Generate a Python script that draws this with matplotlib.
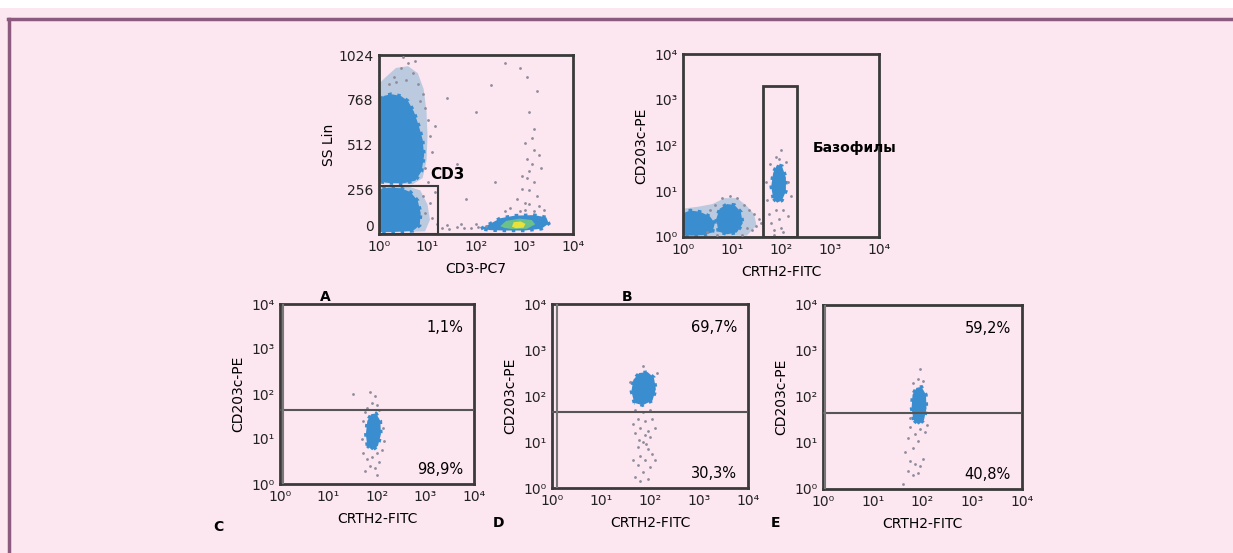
import matplotlib
matplotlib.use("Agg")
import matplotlib.pyplot as plt
from matplotlib.patches import Polygon, Rectangle

# --- данные (x в log10, y в log10 кроме панели A, где y линейный) ---
a_upper = [(0.0, 300), (0.0, 760), (0.1, 790), (0.25, 800), (0.45, 790), (0.6, 760), (0.72, 700),
           (0.82, 620), (0.9, 540), (0.93, 450), (0.88, 360), (0.75, 305), (0.5, 290), (0.2, 292)]
a_upper_halo = [(0.0, 290), (0.0, 860), (0.15, 900), (0.35, 950), (0.6, 960), (0.8, 920), (0.92, 830),
                (0.98, 700), (1.0, 560), (0.98, 420), (0.9, 320), (0.7, 285)]
a_lower = [(0.0, 12), (0.0, 255), (0.2, 265), (0.45, 262), (0.65, 240), (0.8, 190), (0.86, 120),
           (0.84, 50), (0.7, 18), (0.3, 12)]
a_lower_halo = [(0.0, 8), (0.0, 270), (0.5, 280), (0.85, 250), (1.0, 170), (1.05, 80), (0.95, 15)]
a_right = [(2.1, 30), (2.3, 60), (2.5, 90), (2.8, 105), (3.2, 108), (3.45, 95), (3.5, 60),
           (3.35, 30), (3.0, 20), (2.6, 20), (2.3, 22)]
a_green = [(2.5, 45), (2.62, 75), (2.9, 88), (3.15, 80), (3.22, 55), (3.05, 30), (2.75, 28), (2.58, 35)]
a_yellow = [(2.74, 42), (2.78, 68), (2.92, 72), (3.02, 58), (2.98, 36), (2.82, 33)]
a_gray = [(0.3, 900), (0.45, 950), (0.55, 880), (0.7, 920), (0.8, 860), (0.9, 800), (0.95, 720),
          (1.0, 650), (1.05, 560), (0.6, 980), (0.35, 870), (0.2, 860), (0.85, 760), (1.1, 470),
          (0.95, 380), (1.0, 300), (1.15, 240), (1.05, 180), (0.95, 120), (1.1, 90), (1.2, 60), (0.9, 220),
          (1.3, 35), (1.45, 30), (1.6, 38), (1.75, 32), (1.9, 36), (2.05, 40), (2.2, 45), (1.4, 50),
          (1.7, 55), (2.0, 60), (2.7, 150), (2.85, 200), (3.0, 180), (3.1, 250), (3.2, 300), (3.05, 320),
          (3.25, 220), (3.3, 160), (2.95, 260), (3.15, 400), (3.3, 450), (3.0, 520), (3.2, 600),
          (3.1, 700), (3.25, 820), (3.05, 900), (2.9, 950), (3.35, 380), (2.6, 130), (3.4, 140),
          (1.6, 400), (2.0, 700), (2.3, 850), (1.8, 200), (2.4, 300), (2.6, 980), (1.4, 780),
          (2.9, 130), (3.0, 140), (3.1, 170), (3.2, 130), (2.95, 330), (3.1, 360), (3.2, 480),
          (3.05, 430), (3.15, 550), (0.5, 1010), (0.75, 990), (1.15, 620), (1.2, 380)]
a_gate = (0.0, 1.22, 0, 275)   # x0, x1 (log), y0, y1

b_c1 = [(0.0, 0.05), (0.0, 0.52), (0.15, 0.58), (0.35, 0.55), (0.55, 0.45), (0.65, 0.3), (0.6, 0.1),
        (0.4, 0.04), (0.15, 0.03)]
b_c2 = [(0.72, 0.12), (0.68, 0.4), (0.75, 0.62), (0.9, 0.72), (1.05, 0.7), (1.18, 0.55), (1.22, 0.3),
        (1.1, 0.1), (0.9, 0.06)]
b_halo = [(0.0, 0.02), (0.0, 0.62), (0.3, 0.66), (0.6, 0.72), (0.85, 0.85), (1.1, 0.85), (1.3, 0.68),
          (1.45, 0.5), (1.5, 0.25), (1.3, 0.03)]
b_baso = [(1.84, 0.85), (1.8, 1.1), (1.84, 1.4), (1.92, 1.58), (2.02, 1.55), (2.1, 1.3), (2.1, 1.0),
          (2.02, 0.8), (1.92, 0.75)]
b_gray = [(0.55, 0.6), (0.65, 0.7), (0.8, 0.85), (0.95, 0.9), (1.1, 0.85), (1.25, 0.7), (1.35, 0.6),
          (1.45, 0.5), (1.55, 0.4), (1.6, 0.3), (1.3, 0.2), (1.4, 0.15), (1.5, 0.25), (0.5, 0.1),
          (0.7, 0.05), (1.2, 0.05), (1.75, 0.5), (1.8, 0.3), (1.85, 0.15), (1.9, 0.6), (1.95, 0.4),
          (2.0, 0.2), (2.05, 0.6), (2.15, 0.45), (1.72, 0.8), (1.78, 1.6), (1.9, 1.75), (2.0, 1.9),
          (1.95, 1.7), (2.1, 1.65), (2.15, 1.2), (1.7, 1.2), (2.2, 0.9), (1.85, 0.05), (2.05, 0.1)]
b_gate = (1.63, 2.33, 0.0, 3.3)

c_blob = [(1.8, 0.85), (1.77, 1.1), (1.8, 1.4), (1.88, 1.55), (1.98, 1.57), (2.07, 1.4), (2.08, 1.1),
          (2.02, 0.85), (1.9, 0.75)]
c_gray = [(1.75, 0.3), (1.85, 0.4), (1.95, 0.35), (2.05, 0.5), (1.8, 0.55), (1.9, 0.6), (2.0, 0.7),
          (1.72, 0.7), (2.1, 0.75), (2.15, 0.95), (1.7, 1.0), (2.12, 1.25), (1.72, 1.4), (1.8, 1.7),
          (1.9, 1.8), (2.0, 1.75), (1.95, 1.95), (1.85, 2.05), (2.05, 1.65), (1.75, 1.6), (1.5, 2.0), (2.0, 0.2)]

d_blob = [(1.68, 1.85), (1.62, 2.1), (1.66, 2.35), (1.78, 2.5), (1.95, 2.52), (2.08, 2.4), (2.12, 2.15),
          (2.05, 1.9), (1.85, 1.8)]
d_gray = [(1.7, 1.7), (1.85, 1.65), (2.0, 1.7), (1.75, 1.5), (1.9, 1.45), (2.05, 1.5), (1.8, 1.3),
          (1.95, 1.25), (1.7, 1.2), (2.0, 1.1), (1.85, 1.0), (1.75, 0.9), (1.95, 0.85), (1.8, 0.7),
          (2.05, 0.75), (1.9, 0.6), (1.75, 0.5), (2.0, 0.45), (1.85, 0.35), (1.7, 0.25), (1.95, 0.2),
          (1.8, 0.15), (1.65, 0.6), (2.1, 1.3), (1.65, 1.4), (1.9, 1.15), (1.78, 1.05), (1.92, 0.95),
          (2.1, 0.6), (1.6, 2.3), (2.15, 2.5), (1.85, 2.65)]

e_blob = [(1.82, 1.5), (1.78, 1.75), (1.8, 2.05), (1.88, 2.2), (1.98, 2.22), (2.07, 2.05), (2.08, 1.75),
          (2.03, 1.5), (1.92, 1.4)]
e_gray = [(1.75, 1.35), (1.85, 1.2), (1.95, 1.3), (2.05, 1.25), (1.7, 1.1), (1.9, 1.05), (1.8, 0.9),
          (1.65, 0.8), (1.75, 0.6), (1.85, 0.55), (1.95, 0.5), (1.7, 0.4), (1.8, 0.3), (1.9, 0.35),
          (1.6, 0.1), (2.0, 0.65), (1.75, 1.55), (2.1, 1.4), (1.9, 2.4), (2.0, 2.35), (1.8, 2.3), (1.95, 2.6)]

# порог CD203c и проценты (верх, низ)
thresholds = {"C": 1.65, "D": 1.65, "E": 1.65}
percents = {"C": ("1,1%", "98,9%"), "D": ("69,7%", "30,3%"), "E": ("59,2%", "40,8%")}

log_ticks = [0, 1, 2, 3, 4]
log_labels = ["10⁰", "10¹", "10²", "10³", "10⁴"]
lin_ticks = [0, 256, 512, 768, 1024]

BG = "#fce6f0"
BLUE = "#3a8dcf"
HALO = "#bccadf"
GRAY = "#8e8c9c"
AX = "#3a3a3a"

fig = plt.figure(figsize=(12.33, 5.53), dpi=100, facecolor=BG)
W, H = 1233, 553

def make_ax(l, t, r, b):
    ax = fig.add_axes([l / W, 1 - b / H, (r - l) / W, (b - t) / H])
    ax.set_facecolor(BG)
    for s in ax.spines.values():
        s.set_color(AX)
        s.set_linewidth(2)
    ax.tick_params(length=0, pad=4, labelsize=10, colors="#222222")
    return ax

def logpoly(pts, ylog=True):
    return [(10 ** x, 10 ** y if ylog else y) for x, y in pts]

def blob(ax, pts, color, ylog=True, edge=True, z=2):
    ax.add_patch(Polygon(logpoly(pts, ylog), closed=True, fc=color, ec=color if edge else "none",
                         lw=2.5, ls=":", zorder=z))

def logdots(ax, pts, color, ylog=True, s=4):
    xs = [10 ** p[0] for p in pts]
    ys = [10 ** p[1] if ylog else p[1] for p in pts]
    ax.scatter(xs, ys, s=s, color=color, linewidths=0, zorder=3)

def setup_log(ax, ylog=True):
    ax.set_xscale("log")
    ax.set_xlim(1, 1e4)
    ax.set_xticks([10 ** t for t in log_ticks])
    ax.set_xticklabels(log_labels)
    ax.minorticks_off()
    if ylog:
        ax.set_yscale("log")
        ax.set_ylim(1, 1e4)
        ax.set_yticks([10 ** t for t in log_ticks])
        ax.set_yticklabels(log_labels)
        ax.minorticks_off()

# --- A ---
axA = make_ax(379, 55, 573, 234)
setup_log(axA, ylog=False)
axA.set_ylim(0, 1024)
axA.set_yticks(lin_ticks)
axA.set_yticklabels([str(v) for v in lin_ticks])
axA.get_yticklabels()[0].set_va("bottom")
blob(axA, a_upper_halo, HALO, ylog=False, edge=False, z=1.5)
blob(axA, a_lower_halo, HALO, ylog=False, edge=False, z=1.5)
blob(axA, a_upper, BLUE, ylog=False)
blob(axA, a_lower, BLUE, ylog=False)
blob(axA, a_right, BLUE, ylog=False)
blob(axA, a_green, "#6cc08a", ylog=False, edge=False)
blob(axA, a_yellow, "#e8e23a", ylog=False, edge=False)
logdots(axA, a_gray, GRAY, ylog=False)
x0, x1, y0, y1 = a_gate
axA.add_patch(Rectangle((10 ** x0, y0), 10 ** x1 - 10 ** x0, y1 - y0, fill=False, ec=AX, lw=1.5, zorder=4))
axA.text(10 ** 1.05, 338, "CD3", fontsize=11, fontweight="bold", va="center")
axA.set_xlabel("CD3-PC7", fontsize=10, labelpad=6)
axA.set_ylabel("SS Lin", fontsize=10, labelpad=2)

# --- B ---
axB = make_ax(683, 54, 879, 237)
setup_log(axB)
blob(axB, b_halo, HALO, edge=False, z=1.5)
for poly in (b_c1, b_c2, b_baso):
    blob(axB, poly, BLUE)
logdots(axB, b_gray, GRAY)
x0, x1, y0, y1 = b_gate
axB.add_patch(Rectangle((10 ** x0, 10 ** y0), 10 ** x1 - 10 ** x0, 10 ** y1 - 10 ** y0,
                        fill=False, ec=AX, lw=2, zorder=4))
axB.text(10 ** 2.65, 10 ** 1.95, "Базофилы", fontsize=10, fontweight="bold", va="center")
axB.set_xlabel("CRTH2-FITC", fontsize=10, labelpad=6)
axB.set_ylabel("CD203c-PE", fontsize=10, labelpad=4)

# --- C, D, E ---
lower = {
    "C": (280, 304, 474, 484, c_blob, c_gray, 0.06),
    "D": (552, 304, 748, 488, d_blob, d_gray, 0.1),
    "E": (823, 305, 1022, 489, e_blob, e_gray, 0.04),
}
for key, (l, t, r, b, pts, gray, gx) in lower.items():
    ax = make_ax(l, t, r, b)
    setup_log(ax)
    blob(ax, pts, BLUE)
    logdots(ax, gray, GRAY)
    ax.axhline(10 ** thresholds[key], color="#555555", lw=1.5, zorder=4)
    ax.axvline(10 ** gx, color="#777777", lw=1.5, zorder=4)
    top, bot = percents[key]
    ax.text(0.945, 0.87, top, transform=ax.transAxes, ha="right", va="center", fontsize=10.5)
    ax.text(0.945, 0.08, bot, transform=ax.transAxes, ha="right", va="center", fontsize=10.5)
    ax.set_xlabel("CRTH2-FITC", fontsize=10, labelpad=6)
    ax.set_ylabel("CD203c-PE", fontsize=10, labelpad=4)

# буквы панелей
for letter, px, py in [("A", 325, 297), ("B", 627, 297), ("C", 218, 527), ("D", 498, 523), ("E", 775, 523)]:
    fig.text(px / W, 1 - py / H, letter, fontsize=10, fontweight="bold", ha="center", va="center")

# рамка фона
fig.patches.append(Rectangle((0, 1 - 8 / H), 1, 8 / H, transform=fig.transFigure, fc="white", ec="none", zorder=0))
fig.add_artist(plt.Line2D([8 / W, 1], [1 - 19 / H, 1 - 19 / H], color="#8b5a7e", lw=2.5))
fig.add_artist(plt.Line2D([9 / W, 9 / W], [0, 1 - 19 / H], color="#8b5a7e", lw=2.5))

fig.savefig("out.png", dpi=100, facecolor=BG)
